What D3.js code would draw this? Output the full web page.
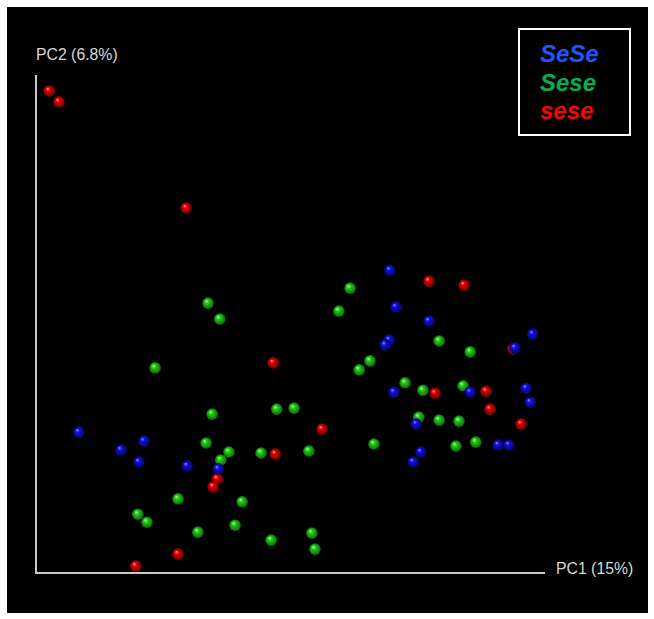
<!DOCTYPE html>
<html>
<head>
<meta charset="utf-8">
<script src="https://cdn.jsdelivr.net/npm/d3@7"></script>
<style>
  body { margin: 0; background: #fff; }
  svg { display: block; }
</style>
</head>
<body>
<script>
// PCA scores, expressed as % of the axis extent (PC1 across, PC2 up)
var groups = ['SeSe', 'Sese', 'sese'];

var seseX = [2.6, 4.5, 29.5, 77.2, 84.1, 93.7, 78.4, 88.4, 89.2, 95.3, 46.6, 56.2, 47.0, 35.6, 34.8, 27.9, 19.6];
var seseY = [96.8, 94.6, 73.3, 58.6, 57.8, 45.0, 36.1, 36.5, 32.9, 29.9, 42.2, 28.9, 23.9, 18.9, 17.3, 3.8, 1.4];

var SeSeX = [69.5, 70.7, 77.2, 69.4, 68.6, 97.6, 94.1, 70.3, 85.3, 96.3, 97.1, 74.7, 90.8, 92.9, 75.6, 74.1, 21.2, 16.7, 20.2, 29.7, 35.8, 8.4];
var SeSeY = [60.8, 53.4, 50.6, 46.8, 45.8, 48.0, 45.2, 36.3, 36.3, 37.1, 34.3, 29.9, 25.7, 25.7, 24.3, 22.3, 26.5, 24.7, 22.3, 21.5, 20.9, 28.3];

var SeseX = [61.7, 59.5, 79.2, 85.3, 65.6, 63.5, 72.5, 76.0, 83.9, 75.2, 79.2, 83.1, 66.4, 82.5, 86.4, 33.8, 36.1, 23.4, 34.6, 47.3, 50.7, 33.4, 37.9, 44.2, 53.6, 36.3, 27.9, 40.5, 20.0, 21.8, 31.8, 39.1, 46.2, 54.2, 54.8];
var SeseY = [57.2, 52.6, 46.6, 44.4, 42.6, 40.8, 38.2, 36.7, 37.6, 31.3, 30.7, 30.5, 25.9, 25.5, 26.3, 54.2, 51.0, 41.2, 31.9, 32.9, 33.1, 26.1, 24.3, 24.1, 24.5, 22.7, 14.9, 14.3, 11.8, 10.2, 8.2, 9.6, 6.6, 8.0, 4.8];

var w = 654;
var h = 619;

var legendColor = { SeSe: '#1f55ff', Sese: '#00b050', sese: '#ff0000' };
// sphere shading: [highlight, body, rim]
var ballColor = {
  SeSe: ['#8a8aff', '#1010d8', '#05056a'],
  Sese: ['#b0ff9a', '#22cc18', '#0b6a08'],
  sese: ['#ff9a9a', '#e00000', '#700000']
};

var svg = d3.select('body')
            .append('svg')
            .attr('width', w)
            .attr('height', h);

var defs = svg.append('defs');
groups.forEach(function(g) {
  var grad = defs.append('radialGradient')
    .attr('id', 'ball-' + g)
    .attr('cx', '50%').attr('cy', '50%').attr('r', '50%')
    .attr('fx', '35%').attr('fy', '30%');
  grad.append('stop').attr('offset', '0%').attr('stop-color', ballColor[g][0]);
  grad.append('stop').attr('offset', '35%').attr('stop-color', ballColor[g][1]);
  grad.append('stop').attr('offset', '100%').attr('stop-color', ballColor[g][2]);
});

// black panel
svg.append('rect')
  .attr('x', 7).attr('y', 7)
  .attr('width', 641).attr('height', 606)
  .attr('fill', '#000');

var x = d3.scaleLinear().domain([0, 100]).range([36, 545]);
var y = d3.scaleLinear().domain([0, 100]).range([573, 75]);

// axes as bare lines
svg.append('line')
  .attr('x1', x(0)).attr('x2', x(0))
  .attr('y1', y(0) + 1).attr('y2', y(100))
  .attr('stroke', '#c8c8c8').attr('stroke-width', 2);
svg.append('line')
  .attr('x1', x(0) - 1).attr('x2', x(100))
  .attr('y1', y(0)).attr('y2', y(0))
  .attr('stroke', '#c8c8c8').attr('stroke-width', 2);

svg.append('text')
  .text('PC2 (6.8%)')
  .attr('x', 36).attr('y', 60)
  .attr('fill', '#d8d8d8')
  .attr('font-family', 'Liberation Sans, Arial, sans-serif')
  .attr('font-size', '15.8px');

svg.append('text')
  .text('PC1 (15%)')
  .attr('x', 556).attr('y', 574)
  .attr('fill', '#d8d8d8')
  .attr('font-family', 'Liberation Sans, Arial, sans-serif')
  .attr('font-size', '15.8px');

function pts(xs, ys, g) {
  return xs.map(function(v, i) { return { x: v, y: ys[i], g: g }; });
}

// draw order: green, red, blue
var data = pts(SeseX, SeseY, 'Sese')
  .concat(pts(seseX, seseY, 'sese'))
  .concat(pts(SeSeX, SeSeY, 'SeSe'));

svg.selectAll('circle.pt')
  .data(data)
  .enter()
  .append('circle')
    .attr('class', 'pt')
    .attr('cx', function(d) { return x(d.x); })
    .attr('cy', function(d) { return y(d.y); })
    .attr('r', 5.8)
    .attr('fill', function(d) { return 'url(#ball-' + d.g + ')'; });

// legend
svg.append('rect')
  .attr('x', 519).attr('y', 29)
  .attr('width', 111).attr('height', 106)
  .attr('fill', '#000')
  .attr('stroke', '#fff')
  .attr('stroke-width', 2);

svg.selectAll('text.leg')
  .data(groups)
  .enter()
  .append('text')
    .attr('class', 'leg')
    .text(function(d) { return d; })
    .attr('x', 540)
    .attr('y', function(d, i) { return 62 + i * 28.5; })
    .attr('fill', function(d) { return legendColor[d]; })
    .attr('font-family', 'Liberation Sans, Arial, sans-serif')
    .attr('font-size', '24px')
    .attr('font-weight', 'bold')
    .attr('font-style', 'italic');
</script>
</body>
</html>
